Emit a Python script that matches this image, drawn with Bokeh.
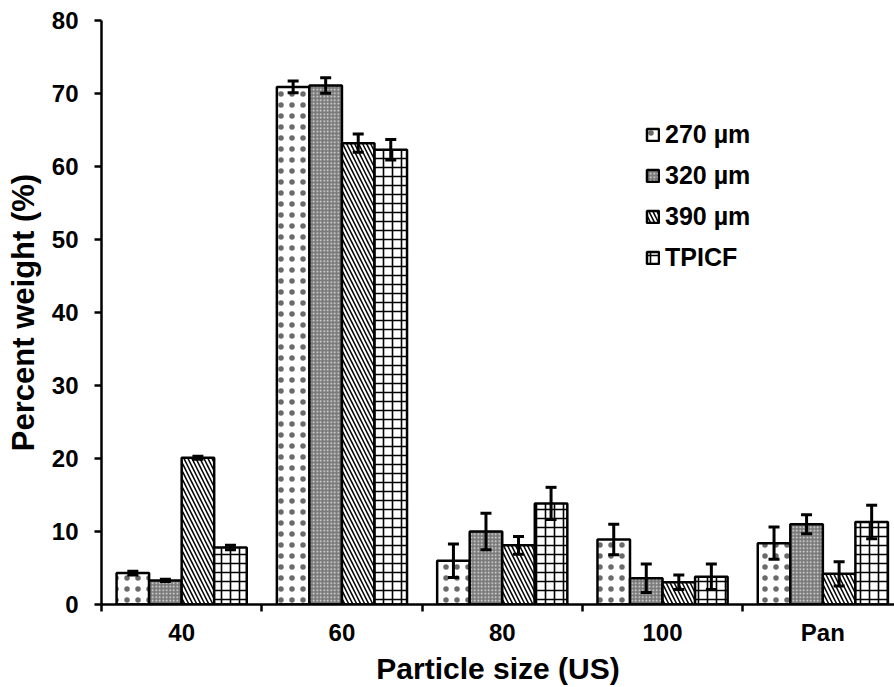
from bokeh.plotting import figure
from bokeh.models import (ColumnDataSource, Whisker, TeeHead, FixedTicker,
                          Legend, LegendItem, Range1d)
from bokeh.embed import file_html
from bokeh.resources import INLINE

# ---- data ----
categories = ["40", "60", "80", "100", "Pan"]
series_names = ["270 µm", "320 µm", "390 µm", "TPICF"]

val_270 = [4.3, 70.9, 6.0, 8.9, 8.4]
err_270 = [0.25, 0.8, 2.3, 2.1, 2.2]
val_320 = [3.3, 71.1, 10.0, 3.6, 11.0]
err_320 = [0.15, 1.05, 2.5, 1.95, 1.3]
val_390 = [20.1, 63.2, 8.1, 3.05, 4.2]
err_390 = [0.2, 1.25, 1.2, 1.0, 1.65]
val_tpicf = [7.8, 62.3, 13.85, 3.8, 11.3]
err_tpicf = [0.3, 1.4, 2.2, 1.75, 2.3]

y_ticks = [0, 10, 20, 30, 40, 50, 60, 70, 80]

values = [val_270, val_320, val_390, val_tpicf]
errors = [err_270, err_320, err_390, err_tpicf]

styles = [
    dict(fill_color="white", hatch_pattern="dot", hatch_color="#6a6a6a",
         hatch_scale=11, hatch_weight=0.3),
    dict(fill_color="#7a7a7a", hatch_pattern="dot", hatch_color="#e8e8e8",
         hatch_scale=3.5, hatch_weight=0.9),
    dict(fill_color="white", hatch_pattern="left_diagonal_line", hatch_color="black",
         hatch_scale=8, hatch_weight=1.5),
    dict(fill_color="white", hatch_pattern="cross", hatch_color="black",
         hatch_scale=9, hatch_weight=1.6),
]

FONT = "Liberation Sans"
bar_w = 0.203
n_s = len(series_names)

p = figure(width=894, height=687, output_backend="svg", toolbar_location=None,
           x_range=Range1d(-0.5, 4.447), y_range=Range1d(0, 80),
           min_border_left=101, min_border_right=0, min_border_top=20,
           min_border_bottom=82)
p.outline_line_color = None
p.xgrid.grid_line_color = None
p.ygrid.grid_line_color = None

items = []
for j, name in enumerate(series_names):
    off = (j - (n_s - 1) / 2) * bar_w
    xs = [i + off for i in range(len(categories))]
    vals = values[j]
    errs = errors[j]
    src = ColumnDataSource(dict(
        x=xs, top=vals,
        upper=[v + e for v, e in zip(vals, errs)],
        lower=[v - e for v, e in zip(vals, errs)],
    ))
    r = p.vbar(x="x", top="top", bottom=0, width=bar_w, source=src,
               line_color="black", line_width=2.5, **styles[j])
    w = Whisker(base="x", upper="upper", lower="lower", source=src,
                level="annotation", line_color="black", line_width=3,
                upper_head=TeeHead(size=11, line_width=3, line_color="black"),
                lower_head=TeeHead(size=11, line_width=3, line_color="black"))
    p.add_layout(w)
    items.append(LegendItem(label=name, renderers=[r]))

legend = Legend(items=items, location=(544, 326), orientation="vertical",
                glyph_width=15, glyph_height=15, label_height=41, spacing=0,
                label_standoff=5, padding=0, margin=0,
                label_text_font=FONT, label_text_font_style="bold",
                label_text_font_size="25px", label_text_color="black",
                border_line_color=None, background_fill_alpha=0)
p.add_layout(legend)

# x axis
p.xaxis.ticker = FixedTicker(ticks=list(range(len(categories))),
                             minor_ticks=[i - 0.5 for i in range(len(categories))])
p.xaxis.major_label_overrides = {i: c for i, c in enumerate(categories)}
p.xaxis.major_tick_out = 0
p.xaxis.major_tick_in = 0
p.xaxis.minor_tick_out = 7
p.xaxis.minor_tick_in = 0
p.xaxis.minor_tick_line_width = 2.5
p.xaxis.minor_tick_line_color = "black"
p.xaxis.major_label_standoff = 7
p.xaxis.axis_label = "Particle size (US)"
p.xaxis.axis_label_standoff = 3
p.xaxis.axis_label_text_font_size = "30px"

# y axis
p.yaxis.ticker = FixedTicker(ticks=y_ticks, minor_ticks=[])
p.yaxis.major_tick_out = 7
p.yaxis.major_tick_in = 0
p.yaxis.major_label_standoff = 16
p.yaxis.axis_label = "Percent weight (%)"
p.yaxis.axis_label_standoff = 8
p.yaxis.axis_label_text_font_size = "31px"

for ax in (p.xaxis[0], p.yaxis[0]):
    ax.axis_line_width = 2.5
    ax.axis_line_color = "black"
    ax.major_tick_line_width = 2.5
    ax.major_tick_line_color = "black"
    ax.major_label_text_font = FONT
    ax.major_label_text_font_style = "bold"
    ax.major_label_text_font_size = "24px"
    ax.major_label_text_color = "black"
    ax.axis_label_text_font = FONT
    ax.axis_label_text_font_style = "bold"
    ax.axis_label_text_color = "black"

open("out.html", "w").write(file_html(p, INLINE))
